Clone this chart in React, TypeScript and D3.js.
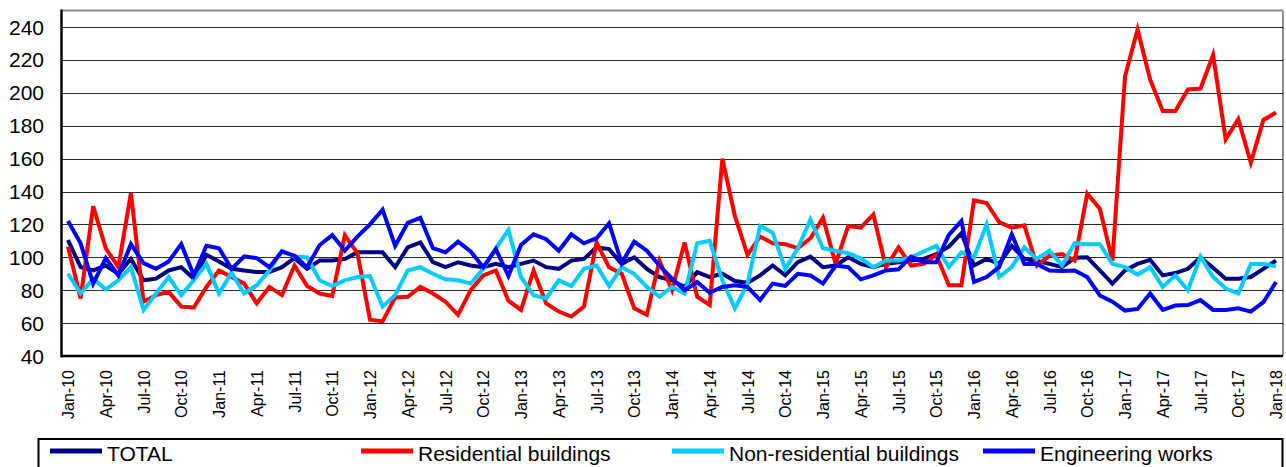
import React, { useEffect } from "react";
import { scaleLinear, line } from "d3";

// monthly index values, Jan-10 .. Jan-18 (97 months)
const total = [
  110.5, 94, 92, 95, 90, 99, 86, 87, 92, 94, 87, 101.5, 97.5, 93, 92, 91, 91, 94, 99.5, 93, 98, 98, 99, 103, 103,
  103, 94, 106, 109, 97, 94, 97, 95, 94, 96, 94, 96, 98, 94, 93, 98, 99, 106, 105, 96, 100, 93, 88, 86,
  82, 91, 88, 90, 85.6, 84.5, 89, 95, 89, 97, 100.4, 94, 95, 100, 96, 94, 96, 97, 98, 99, 102, 106.5, 114.6, 95,
  99, 96, 107, 99, 97.7, 96, 94, 99.7, 100, 92, 84, 92, 96, 98.5, 89, 90.4, 93, 100, 93.6, 87, 87, 88, 93, 98,
];

const residential = [
  106.5, 75, 131, 105.5, 94, 139, 73, 77, 79, 70, 69.5, 82, 92, 88, 84, 72, 82, 77, 95, 82.5, 78, 76.5, 113.5, 102.5, 62,
  61, 75.6, 76, 82, 78, 73, 65, 80, 89, 92, 73.6, 68, 92, 72, 67, 64, 70, 109, 94, 90, 69, 65, 98, 80,
  109, 76, 71, 160, 125, 101.5, 112.6, 108.5, 108, 105.5, 111.6, 124, 96, 119, 118, 126, 94, 106, 95, 96, 101.5, 83, 83, 134.6,
  133, 121.4, 118, 119.4, 95, 101, 102, 98, 138.7, 129.5, 98, 210, 238.5, 208, 189, 189, 202, 202.6, 223, 171.7, 184, 157.5, 183.5, 188,
];

const nonResidential = [
  90, 78, 87, 80.5, 86, 94, 68, 78, 88, 77, 86, 96, 78, 90.7, 78, 83, 92, 104, 100.5, 100, 86, 82.5, 86, 88, 88.6,
  70, 77, 92, 94, 90, 86.6, 86, 84, 93, 105.5, 116.6, 88, 77, 75, 86, 82.5, 93, 95, 82.5, 94, 90, 82, 76, 82,
  78, 108.5, 110, 86, 69, 84, 119, 115, 93, 105.5, 123, 105.5, 104, 102.5, 99.4, 94, 98, 98, 100, 103.5, 107, 94, 103, 100,
  120, 88, 94, 106, 99, 104, 95, 108.6, 108, 108, 96, 94, 89.5, 94, 82, 89, 80, 100.5, 88, 81, 78, 96, 96, 94.5,
];

const engineering = [
  122, 108.5, 84, 99.5, 89, 108, 96.5, 93, 97.5, 108, 89, 107, 105.5, 93, 100.5, 99.5, 94, 103.5, 101, 94, 107.5, 113.5, 104, 112.6, 120,
  129, 107, 121, 124, 105.5, 103, 109.5, 103.5, 94, 105, 88.6, 107.5, 114, 111, 104, 114, 108.5, 111.6, 120.7, 96.5, 109.5, 104, 95, 87,
  80, 85, 78.5, 82, 83, 82, 74, 84, 82.6, 90, 89, 84, 95, 94, 86.6, 89, 92, 92.7, 100.4, 97, 97, 113.6, 122, 85,
  88, 94, 114, 96, 96, 92, 91.6, 92, 88, 76.8, 73, 67.6, 68.6, 78, 68, 70.7, 71, 74, 68, 68, 69, 67, 72.7, 85,
];

const yTicks = [40, 60, 80, 100, 120, 140, 160, 180, 200, 220, 240];

// one label every third month
const xTickLabels = [
  "Jan-10", "Apr-10", "Jul-10", "Oct-10", "Jan-11", "Apr-11", "Jul-11", "Oct-11",
  "Jan-12", "Apr-12", "Jul-12", "Oct-12", "Jan-13", "Apr-13", "Jul-13", "Oct-13",
  "Jan-14", "Apr-14", "Jul-14", "Oct-14", "Jan-15", "Apr-15", "Jul-15", "Oct-15",
  "Jan-16", "Apr-16", "Jul-16", "Oct-16", "Jan-17", "Apr-17", "Jul-17", "Oct-17", "Jan-18",
];

const seriesNames = ["TOTAL", "Residential buildings", "Non-residential buildings", "Engineering works"];
const seriesColors = ["#000080", "#ff0000", "#00ccff", "#0000ff"];
const seriesData = [total, residential, nonResidential, engineering];

const W = 1286;
const H = 467;
const FONT = "'Liberation Sans', Arial, sans-serif";

const App = () => {
  useEffect(() => {
    document.body.style.margin = "0";
  }, []);

  const x = scaleLinear().domain([0, total.length - 1]).range([68, 1276]);
  const y = scaleLinear().domain([40, 240]).range([356, 27]);

  const plotLeft = 61.5;
  const plotRight = 1283;
  const plotTop = 10.5;

  const lineGen = line<number>()
    .x((_, i) => x(i))
    .y((d) => y(d));

  // legend item positions (line start) across the box
  const legendX = [50, 361, 672, 983];

  return (
    <svg width={W} height={H} style={{ display: "block", background: "#fff" }} fontFamily={FONT}>
      {/* plot frame */}
      <line x1={plotLeft} x2={plotRight} y1={plotTop} y2={plotTop} stroke="#8c8c8c" strokeWidth={2} />
      <line x1={plotRight} x2={plotRight} y1={plotTop} y2={y(40)} stroke="#8c8c8c" strokeWidth={2} />

      {/* gridlines */}
      {yTicks.slice(1).map((t) => (
        <line
          key={t}
          x1={plotLeft}
          x2={plotRight}
          y1={Math.round(y(t)) + 0.5}
          y2={Math.round(y(t)) + 0.5}
          stroke="#2a2a2a"
          strokeWidth={1}
        />
      ))}

      {/* y labels */}
      {yTicks.map((t) => (
        <text key={t} x={44} y={y(t)} dy="0.36em" textAnchor="end" fontSize={21} fill="#000">
          {t}
        </text>
      ))}

      {/* x labels */}
      {xTickLabels.map((lab, k) => {
        const px = x(k * 3) + 6;
        return (
          <text
            key={lab}
            transform={`translate(${px},370) rotate(-90)`}
            textAnchor="end"
            fontSize={16}
            fill="#000"
          >
            {lab}
          </text>
        );
      })}

      {/* series */}
      {seriesData.map((d, i) => (
        <path
          key={seriesNames[i]}
          d={lineGen(d) || ""}
          fill="none"
          stroke={seriesColors[i]}
          strokeWidth={4}
        />
      ))}

      {/* axes */}
      <line x1={plotLeft} x2={plotLeft} y1={plotTop - 1} y2={y(40) + 1.5} stroke="#000" strokeWidth={2.5} />
      <line x1={plotLeft} x2={plotRight} y1={y(40)} y2={y(40)} stroke="#000" strokeWidth={2.5} />

      {/* legend */}
      <rect x={38.5} y={439} width={1244} height={40} fill="#fff" stroke="#000" strokeWidth={2} />
      {seriesNames.map((name, i) => (
        <g key={name}>
          <line
            x1={legendX[i]}
            x2={legendX[i] + 52}
            y1={451}
            y2={451}
            stroke={seriesColors[i]}
            strokeWidth={5}
          />
          <text x={legendX[i] + 57} y={461} fontSize={21} fill="#000">
            {name}
          </text>
        </g>
      ))}
    </svg>
  );
};

export default App;
